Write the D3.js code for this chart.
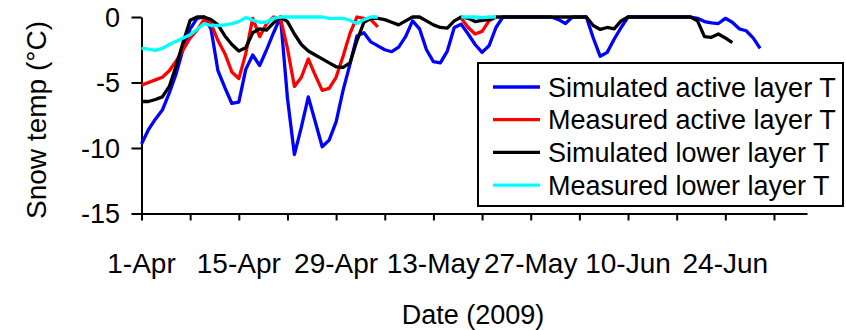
<!DOCTYPE html>
<html>
<head>
<meta charset="utf-8">
<script src="https://cdn.jsdelivr.net/npm/d3@7"></script>
<style>
  body { margin: 0; background: #fff; }
  text { font-family: "Liberation Sans", Arial, sans-serif; fill: #000; }
</style>
</head>
<body>
<svg id="chart" width="846" height="330"></svg>
<script>
// daily values starting 1 Apr 2009, null = no measurement
const startDate = new Date(Date.UTC(2009, 3, 1))

const simActive = [
  -9.7, -8.6, -7.8, -7.1, -5.8, -4.3, -2.4, -0.9, -0.1, 0,
  -0.9, -4.1, -5.4, -6.6, -6.5, -4.0, -2.9, -3.7, -2.5, -1.2,
  0, -6.2, -10.5, -8.4, -6.1, -8.0, -9.9, -9.4, -8.0, -5.6,
  -3.6, -1.45, -1.2, -1.9, -2.2, -2.5, -2.65, -2.3, -1.5, -0.3,
  -0.9, -2.5, -3.4, -3.5, -2.6, -0.8, -0.55, -1.3, -2.1, -2.7,
  -2.2, -0.8, 0, 0, 0, 0, 0, 0, 0, 0,
  -0.2, -0.5, 0, 0, 0, -1.6, -3.0, -2.7, -1.7, -0.8,
  0, 0, 0, 0, 0, 0, 0, 0, 0, 0,
  -0.1, -0.35, -0.45, -0.5, -0.1, -0.4, -0.9, -1.05, -1.6, -2.4
]

const measActive = [
  -5.2, -5.0, -4.8, -4.6, -4.1, -3.35, -2.5, -1.6, -1.0, -0.2,
  -0.5, -1.8, -2.8, -4.2, -4.7, -2.8, -0.1, -1.5, -0.5, 0,
  -0.1, -2.4, -5.3, -4.6, -3.2, -4.45, -5.6, -5.45, -4.6, -3.0,
  -1.25, 0, -0.1, -0.2, -0.75, null, null, null, null, null,
  null, null, null, null, null, null, -0.1, -0.8, -1.3, -1.1,
  -0.3, 0
]

const simLower = [
  -6.45, -6.45, -6.3, -6.1, -5.3, -3.7, -1.9, -0.25, 0, 0,
  -0.2, -0.6, -1.45, -2.1, -2.6, -2.35, -1.2, -0.9, -1.0, -0.45,
  0, -0.35, -1.3, -2.1, -2.6, -2.9, -3.2, -3.5, -3.8, -3.85,
  -3.5, -1.8, -0.4, -0.1, -0.1, -0.2, -0.4, -0.6, -0.3, 0,
  0, -0.3, -0.6, -0.8, -0.85, -0.3, 0, -0.1, -0.35, -0.25,
  -0.2, 0, 0, 0, 0, 0, 0, 0, 0, 0,
  0, 0, 0, 0, 0, -0.65, -0.95, -0.8, -0.9, -0.3,
  0, 0, 0, 0, 0, 0, 0, 0, 0, 0,
  -0.3, -1.5, -1.55, -1.3, -1.6, -1.95
]

const measLower = [
  -2.4, -2.45, -2.55, -2.4, -2.1, -1.85, -1.6, -1.35, -0.95, -0.5,
  -0.65, -0.65, -0.6, -0.5, -0.35, -0.05, -0.25, -0.4, -0.4, -0.1,
  0, 0, 0, 0, 0, 0, 0, -0.1, -0.1, -0.1,
  -0.25, -0.5, -0.2, 0, 0, null, null, null, null, null,
  null, null, null, null, null, null, 0, 0, 0, -0.05,
  0, 0
]

const seriesNames = ['Simulated active layer T', 'Measured active layer T', 'Simulated lower layer T', 'Measured lower layer T']
const seriesValues = [simActive, measActive, simLower, measLower]
const seriesColors = ['#0000ff', '#ff0000', '#000000', '#00ffff']

const yTicks = [0, -5, -10, -15]
const tickEveryDays = 7
const labelEveryDays = 14
const lastTickDay = 91
const axisEndDay = 95.75

const margin = { top: 17, left: 141.5 }
const plotW = 665.5
const plotH = 196.5

const svg = d3.select('#chart')

const x = d3.scaleUtc()
  .domain([startDate, d3.utcHour.offset(startDate, axisEndDay * 24)])
  .range([margin.left, margin.left + plotW])

const y = d3.scaleLinear()
  .domain([-15, 0])
  .range([margin.top + plotH, margin.top])

const dayDate = (i) => d3.utcDay.offset(startDate, i)
const fmt = d3.utcFormat('%-d-%b')

const tickDates = d3.range(0, lastTickDay + 1, tickEveryDays).map(dayDate)
const labelDates = d3.range(0, lastTickDay, labelEveryDays).map(dayDate)

// x axis
const xAxis = svg.append('g')
  .attr('transform', `translate(0,${y(-15)})`)
  .call(d3.axisBottom(x).tickValues(tickDates).tickSize(7).tickSizeOuter(0).tickFormat(''))
xAxis.select('.domain').attr('stroke-width', 2)
xAxis.selectAll('.tick line').attr('stroke-width', 2)

svg.append('g')
  .selectAll('text')
  .data(labelDates)
  .join('text')
    .attr('x', (d) => x(d))
    .attr('y', 273)
    .attr('text-anchor', 'middle')
    .attr('font-size', 28)
    .text((d) => fmt(d))

// y axis
const yAxis = svg.append('g')
  .attr('transform', `translate(${margin.left},0)`)
  .call(d3.axisLeft(y).tickValues(yTicks).tickSize(10).tickSizeOuter(0).tickFormat(''))
yAxis.select('.domain').attr('stroke-width', 2)
yAxis.selectAll('.tick line').attr('stroke-width', 2)

svg.append('g')
  .selectAll('text')
  .data(yTicks)
  .join('text')
    .attr('x', 120)
    .attr('y', (d) => y(d))
    .attr('dy', '0.36em')
    .attr('text-anchor', 'end')
    .attr('font-size', 27)
    .text((d) => d)

// titles
svg.append('text')
  .attr('transform', 'translate(46,120) rotate(-90)')
  .attr('text-anchor', 'middle')
  .attr('font-size', 28)
  .text('Snow temp (°C)')

svg.append('text')
  .attr('x', 473)
  .attr('y', 324)
  .attr('text-anchor', 'middle')
  .attr('font-size', 27)
  .text('Date (2009)')

// lines
const line = d3.line()
  .defined((d) => d != null)
  .x((d, i) => x(dayDate(i)))
  .y((d) => y(d))

svg.append('g')
  .selectAll('path')
  .data(seriesValues)
  .join('path')
    .attr('d', (d) => line(d))
    .attr('fill', 'none')
    .attr('stroke', (d, i) => seriesColors[i])
    .attr('stroke-width', 3.3)
    .attr('stroke-linejoin', 'round')

// legend
const legend = svg.append('g')
legend.append('rect')
  .attr('x', 478).attr('y', 63)
  .attr('width', 365).attr('height', 143)
  .attr('fill', '#fff')
  .attr('stroke', '#000')
  .attr('stroke-width', 2)

const rows = legend.selectAll('g.row')
  .data(seriesNames)
  .join('g')
    .attr('class', 'row')
    .attr('transform', (d, i) => `translate(0,${87 + i * 32.7})`)

rows.append('line')
  .attr('x1', 493).attr('x2', 540)
  .attr('stroke', (d, i) => seriesColors[i])
  .attr('stroke-width', 3.3)

rows.append('text')
  .attr('x', 548)
  .attr('dy', '0.36em')
  .attr('font-size', 27)
  .text((d) => d)
</script>
</body>
</html>
